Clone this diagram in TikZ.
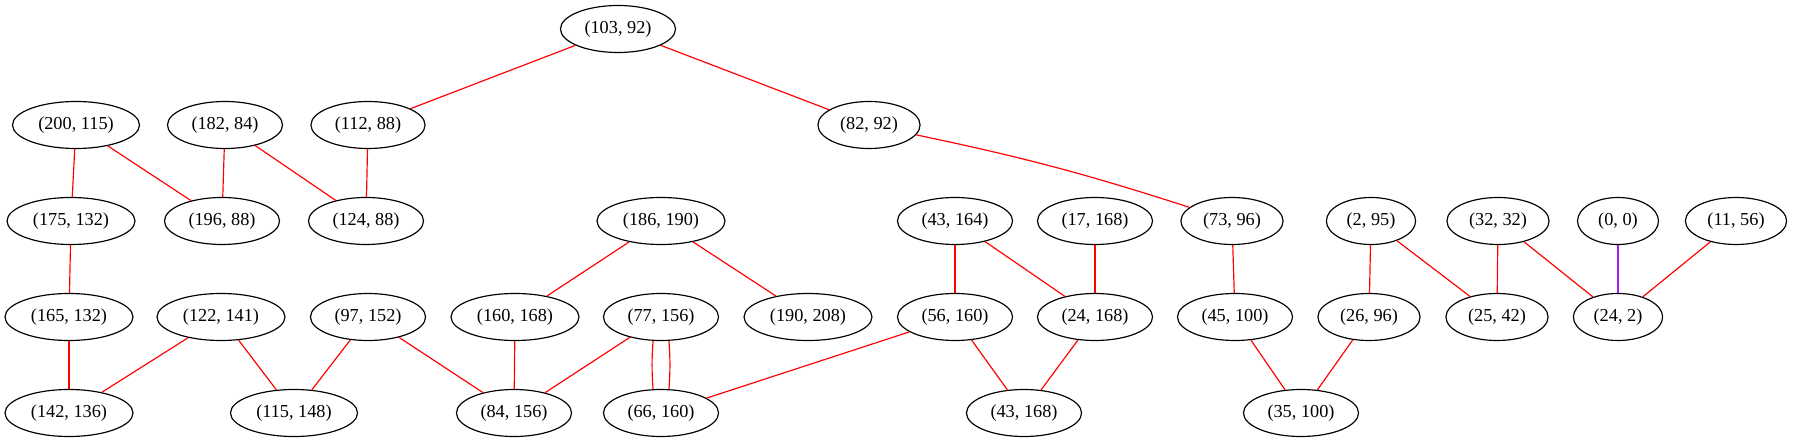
\documentclass[tikz,border=0pt]{standalone}
\usepackage{fontspec}
\setmainfont{Liberation Serif}
\usetikzlibrary{shapes.geometric}
\definecolor{gvpurple}{HTML}{A020F0}
\begin{document}
\begin{tikzpicture}[x=0.766pt,y=-0.766pt,
  gvnode/.style={draw=black,line width=0.9pt,ellipse,inner xsep=5.5pt,inner ysep=1pt,minimum height=36pt,minimum width=62pt,font=\fontsize{14pt}{16pt}\selectfont},
  rededge/.style={draw=red,line width=0.9pt},
  purpleedge/.style={draw=gvpurple,line width=0.9pt}]
\useasboundingbox (0,0) rectangle (1793,443);
% row 1
\node[gvnode] (a103_92) at (618,29) {(103, 92)};
% row 2
\node[gvnode] (a200_115) at (76,125) {(200, 115)};
\node[gvnode] (a182_84) at (225,125) {(182, 84)};
\node[gvnode] (a112_88) at (368,125) {(112, 88)};
\node[gvnode] (a82_92) at (869,125) {(82, 92)};
% row 3
\node[gvnode] (a175_132) at (71,221) {(175, 132)};
\node[gvnode] (a196_88) at (222,221) {(196, 88)};
\node[gvnode] (a124_88) at (366,221) {(124, 88)};
\node[gvnode] (a186_190) at (661,221) {(186, 190)};
\node[gvnode] (a43_164) at (955,221) {(43, 164)};
\node[gvnode] (a17_168) at (1095,221) {(17, 168)};
\node[gvnode] (a73_96) at (1232,221) {(73, 96)};
\node[gvnode] (a2_95) at (1371,221) {(2, 95)};
\node[gvnode] (a32_32) at (1498,221) {(32, 32)};
\node[gvnode] (a0_0) at (1618,221) {(0, 0)};
\node[gvnode] (a11_56) at (1736,221) {(11, 56)};
% row 4
\node[gvnode] (a165_132) at (69,317) {(165, 132)};
\node[gvnode] (a122_141) at (221,317) {(122, 141)};
\node[gvnode] (a97_152) at (368,317) {(97, 152)};
\node[gvnode] (a160_168) at (515,317) {(160, 168)};
\node[gvnode] (a77_156) at (661,317) {(77, 156)};
\node[gvnode] (a190_208) at (808,317) {(190, 208)};
\node[gvnode] (a56_160) at (955,317) {(56, 160)};
\node[gvnode] (a24_168) at (1095,317) {(24, 168)};
\node[gvnode] (a45_100) at (1235,317) {(45, 100)};
\node[gvnode] (a26_96) at (1369,317) {(26, 96)};
\node[gvnode] (a25_42) at (1497,317) {(25, 42)};
\node[gvnode] (a24_2) at (1618,317) {(24, 2)};
% row 5
\node[gvnode] (a142_136) at (69,413) {(142, 136)};
\node[gvnode] (a115_148) at (294,413) {(115, 148)};
\node[gvnode] (a84_156) at (514,413) {(84, 156)};
\node[gvnode] (a66_160) at (661,413) {(66, 160)};
\node[gvnode] (a43_168) at (1024,413) {(43, 168)};
\node[gvnode] (a35_100) at (1301,413) {(35, 100)};
% edges
\draw[rededge] (a103_92) -- (a112_88);
\draw[rededge] (a103_92) -- (a82_92);
\draw[rededge] (a200_115) -- (a175_132);
\draw[rededge] (a200_115) -- (a196_88);
\draw[rededge] (a182_84) -- (a196_88);
\draw[rededge] (a182_84) -- (a124_88);
\draw[rededge] (a112_88) -- (a124_88);
\draw[rededge] (a82_92) to[bend left=3] (a73_96);
\draw[rededge] (a175_132) -- (a165_132);
\draw[rededge] (a165_132) -- (a142_136);
\draw[rededge] (a122_141) -- (a142_136);
\draw[rededge] (a122_141) -- (a115_148);
\draw[rededge] (a97_152) -- (a115_148);
\draw[rededge] (a97_152) -- (a84_156);
\draw[rededge] (a186_190) -- (a160_168);
\draw[rededge] (a186_190) -- (a190_208);
\draw[rededge] (a160_168) -- (a84_156);
\draw[rededge] (a77_156) -- (a84_156);
\draw[rededge] ([xshift=-6.1pt]a77_156.south) to[bend right=4] ([xshift=-6.1pt]a66_160.north);
\draw[rededge] ([xshift=6.1pt]a77_156.south) to[bend left=4] ([xshift=6.1pt]a66_160.north);
\draw[rededge] (a56_160) -- (a66_160);
\draw[rededge] (a43_164) -- (a56_160);
\draw[rededge] (a43_164) -- (a24_168);
\draw[rededge] (a17_168) -- (a24_168);
\draw[rededge] (a56_160) -- (a43_168);
\draw[rededge] (a24_168) -- (a43_168);
\draw[rededge] (a73_96) -- (a45_100);
\draw[rededge] (a45_100) -- (a35_100);
\draw[rededge] (a2_95) -- (a26_96);
\draw[rededge] (a2_95) -- (a25_42);
\draw[rededge] (a26_96) -- (a35_100);
\draw[rededge] (a32_32) -- (a25_42);
\draw[rededge] (a32_32) -- (a24_2);
\draw[purpleedge] (a0_0) -- (a24_2);
\draw[rededge] (a11_56) -- (a24_2);
\end{tikzpicture}
\end{document}
